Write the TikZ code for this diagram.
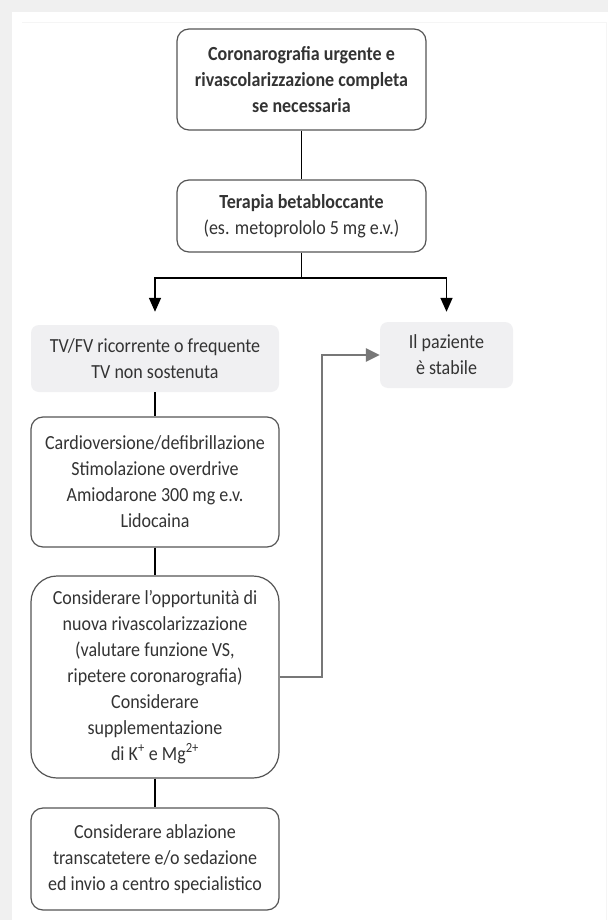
\documentclass[tikz,border=0pt]{standalone}
\usepackage{fontspec}
\setmainfont{Carlito}[FakeStretch=0.9]
\usepackage{xcolor}
\usetikzlibrary{arrows.meta}

\definecolor{txtgrey}{HTML}{333333}
\definecolor{edgegrey}{HTML}{555555}
\definecolor{fillgrey}{HTML}{F0F0F2}
\definecolor{linkgrey}{HTML}{777777}

\tikzset{
  stepbox/.style={draw=edgegrey,line width=1.2pt,rounded corners=12pt,align=center,
    text=txtgrey,inner sep=0pt,font=\fontsize{20}{26}\selectfont},
  softbox/.style={fill=fillgrey,rounded corners=8pt,align=center,
    text=txtgrey,inner sep=0pt,font=\fontsize{20}{26}\selectfont},
  link/.style={line width=1.6pt,black},
  linktip/.style={link,-{Triangle[length=14pt,width=12pt]}},
  backlink/.style={line width=2.8pt,linkgrey,-{Triangle[length=14pt,width=13pt]}}
}

\begin{document}
\begin{tikzpicture}[x=1pt,y=-1pt]
  \useasboundingbox (0,0) rectangle (608,920);
  \fill[gray!12] (0,0) rectangle (608,920);
  \fill[white] (12,12) rectangle (608,920);
  \draw[gray!8,line width=0.6pt] (22,22) -- (606,22) -- (606,920);

  \node[stepbox,minimum width=249pt,minimum height=101pt] (urgent) at (301.5,79.5)
    {\bfseries Coronarografia urgente e\\ \bfseries rivascolarizzazione completa\\ \bfseries se necessaria};
  \node[stepbox,minimum width=249pt,minimum height=72pt] (beta) at (301.5,216)
    {\bfseries Terapia betabloccante\\ (es. metoprololo 5 mg e.v.)};
  \node[softbox,minimum width=248pt,minimum height=67pt] (recur) at (155,358.5)
    {TV/FV ricorrente o frequente\\ TV non sostenuta};
  \node[softbox,minimum width=133pt,minimum height=66pt] (stable) at (446.5,355)
    {Il paziente\\ è stabile};
  \node[stepbox,minimum width=248pt,minimum height=130pt] (shock) at (155,482)
    {Cardioversione/defibrillazione\\ Stimolazione overdrive\\ Amiodarone 300 mg e.v.\\ Lidocaina};
  \node[stepbox,rounded corners=26pt,minimum width=248pt,minimum height=202pt] (revasc) at (155,677)
    {Considerare l’opportunità di\\ nuova rivascolarizzazione\\ (valutare funzione VS,\\ ripetere coronarografia)\\
     Considerare\\ supplementazione\\ di K\textsuperscript{+} e Mg\textsuperscript{2+}};
  \node[stepbox,minimum width=248pt,minimum height=102pt] (ablate) at (155,859)
    {Considerare ablazione\\ transcatetere e/o sedazione\\ ed invio a centro specialistico};

  \coordinate (split) at (301.5,278);
  \coordinate (bend) at (322,677);

  \draw[link] (urgent) -- (beta);
  \draw[link] (beta) -- (split);
  \draw[linktip,shorten >=13pt] (split) -| (recur.north);
  \draw[linktip,shorten >=10pt] (split) -| (stable.north);
  \draw[link] (recur) -- (shock);
  \draw[link] (shock) -- (revasc);
  \draw[link] (revasc) -- (ablate);
  \draw[backlink] (revasc.east) -- (bend) |- (stable.west);
\end{tikzpicture}
\end{document}
